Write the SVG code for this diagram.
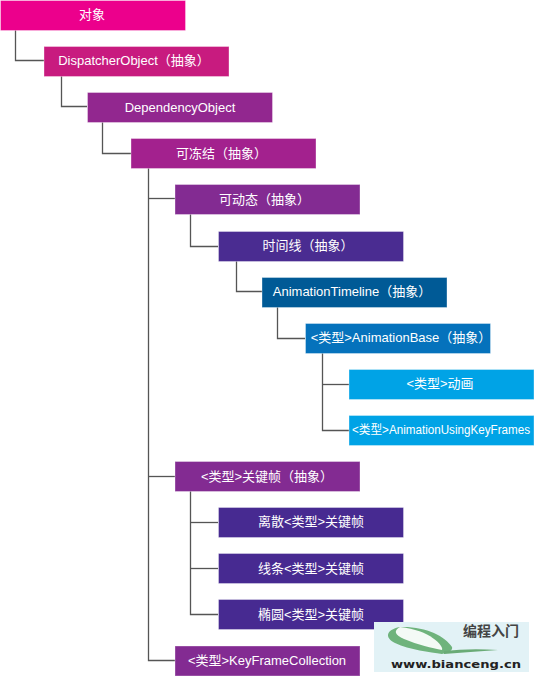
<svg xmlns="http://www.w3.org/2000/svg" width="534" height="677" viewBox="0 0 534 677">
<style>
.n{stroke-width:1;stroke-opacity:.35;stroke:#fff}
.t{font-family:"Liberation Sans","Noto Sans CJK SC",sans-serif;font-size:13px;fill:#fff;text-anchor:middle}
.c{fill:none;stroke:#555;stroke-width:1.3}
</style>
<rect width="534" height="677" fill="#fff"/>
<g id="connectors">
<path class="c" d="M15.500 30V60.500H44"/>
<path class="c" d="M61.500 76V106.500H87"/>
<path class="c" d="M102.500 122V153.500H131"/>
<path class="c" d="M148.500 168V660.500H175"/>
<path class="c" d="M148.500 198.500H175"/>
<path class="c" d="M190.500 214V246.500H218"/>
<path class="c" d="M236.500 261V291.500H262"/>
<path class="c" d="M277.500 307V338.500H305"/>
<path class="c" d="M322.500 353V430.500H349"/>
<path class="c" d="M322.500 384.500H349"/>
<path class="c" d="M148.500 476.500H175"/>
<path class="c" d="M190.500 491V614.500H218"/>
<path class="c" d="M190.500 522.500H218"/>
<path class="c" d="M190.500 568.500H218"/>
</g>
<g id="n1"><rect class="n" x="0.500" y="0.500" width="185" height="30" fill="#ec008c"/><text class="t" x="92" y="19">对象</text></g>
<g id="n2"><rect class="n" x="44" y="46.500" width="185" height="30" fill="#c81b7f"/><text class="t" x="134" y="65">DispatcherObject（抽象）</text></g>
<g id="n3"><rect class="n" x="87.500" y="92.500" width="185" height="30" fill="#92278f"/><text class="t" x="180" y="112">DependencyObject</text></g>
<g id="n4"><rect class="n" x="131" y="138.500" width="185" height="30" fill="#a3218e"/><text class="t" x="221.500" y="158">可冻结（抽象）</text></g>
<g id="n5"><rect class="n" x="175" y="184.500" width="185" height="30" fill="#832b92"/><text class="t" x="264.500" y="204">可动态（抽象）</text></g>
<g id="n6"><rect class="n" x="218.500" y="231.500" width="185" height="30" fill="#4a2c91"/><text class="t" x="308" y="250">时间线（抽象）</text></g>
<g id="n7"><rect class="n" x="262" y="277.500" width="185" height="30" fill="#005a96"/><text class="t" x="352" y="296">AnimationTimeline（抽象）</text></g>
<g id="n8"><rect class="n" x="305.500" y="323.500" width="185" height="30" fill="#0572bc"/><text class="t" x="401" y="342">&lt;类型&gt;AnimationBase（抽象）</text></g>
<g id="n9"><rect class="n" x="349" y="369.500" width="185" height="30" fill="#00a3e6"/><text class="t" x="440" y="388">&lt;类型&gt;动画</text></g>
<g id="n10"><rect class="n" x="349" y="415.500" width="185" height="30" fill="#00a3e6"/><text class="t" x="352" y="434" style="text-anchor:start;font-size:12px" textLength="178" lengthAdjust="spacingAndGlyphs">&lt;类型&gt;AnimationUsingKeyFrames</text></g>
<g id="n11"><rect class="n" x="175" y="461.500" width="185" height="30" fill="#832b92"/><text class="t" x="267" y="481">&lt;类型&gt;关键帧（抽象）</text></g>
<g id="n12"><rect class="n" x="218.500" y="507.500" width="185" height="30" fill="#472a91"/><text class="t" x="311" y="526">离散&lt;类型&gt;关键帧</text></g>
<g id="n13"><rect class="n" x="218.500" y="553.500" width="185" height="30" fill="#472a91"/><text class="t" x="311" y="573">线条&lt;类型&gt;关键帧</text></g>
<g id="n14"><rect class="n" x="218.500" y="599.500" width="185" height="30" fill="#472a91"/><text class="t" x="311" y="619">椭圆&lt;类型&gt;关键帧</text></g>
<g id="n15"><rect class="n" x="175" y="646" width="185" height="30" fill="#832b92"/><text class="t" x="267" y="665">&lt;类型&gt;KeyFrameCollection</text></g>
<g id="logo">
<rect x="374" y="622" width="155" height="50" fill="#e2f2f6"/>
<path d="M400 627C385 630 385 638 395 643C410 650 430 652 442 654C450 652 453 650 452 647C445 636 425 626 400 627Z" fill="#6fb37c"/>
<path d="M400 627C393 631 395 635 404 639C418 645 432 648 442 650C444 646 430 630 400 627Z" fill="#f4faf6"/>
<path d="M444 651Q470 648 498 650Q470 652 444 654Z" fill="#6aab76"/>
<text x="491" y="636" font-family="'Noto Sans CJK SC',sans-serif" font-size="14px" font-weight="700" fill="#444" text-anchor="middle">编程入门</text>
<text x="391" y="668" font-family="'DejaVu Sans',sans-serif" font-size="11px" font-weight="700" fill="#222" textLength="130" lengthAdjust="spacingAndGlyphs">www.bianceng.cn</text>
</g>
</svg>
